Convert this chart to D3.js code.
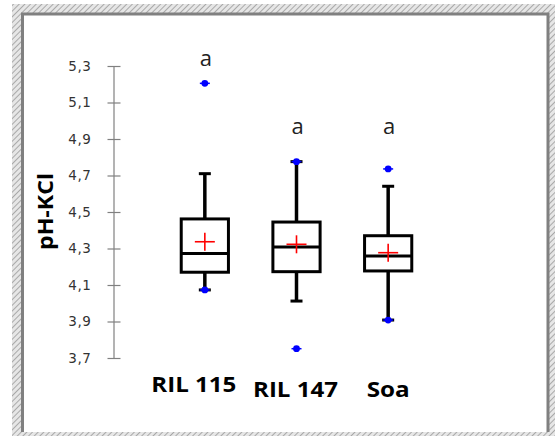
<!DOCTYPE html>
<html>
<head>
<meta charset="utf-8">
<script src="https://cdn.jsdelivr.net/npm/d3@7"></script>
<style>
  html, body { margin: 0; padding: 0; background: #fff; }
  svg { display: block; }
</style>
</head>
<body>
<div id="chart"></div>
<script>
// Soil pH (KCl) per genotype: box plot summaries
const categories   = ["RIL 115", "RIL 147", "Soa"];
const q1           = [4.170, 4.173, 4.177];
const medians      = [4.272, 4.308, 4.259];
const q3           = [4.462, 4.445, 4.370];
const whiskerLow   = [4.073, 4.012, 3.908];
const whiskerHigh  = [4.710, 4.776, 4.641];
const means        = [4.337, 4.323, 4.277];
const minimums     = [4.073, 3.751, 3.908];
const maximums     = [5.205, 4.776, 4.736];
const groupLetters = ["a", "a", "a"];
const letterLevels = [5.33, 4.96, 4.96];
const tickValues   = [3.7, 3.9, 4.1, 4.3, 4.5, 4.7, 4.9, 5.1, 5.3];
const tickLabels   = ["3,7", "3,9", "4,1", "4,3", "4,5", "4,7", "4,9", "5,1", "5,3"];

const W = 555, H = 436;
const svg = d3.select("#chart").append("svg")
  .attr("width", W).attr("height", H);

// hatched frame around the chart area
const defs = svg.append("defs");
const pat = defs.append("pattern")
  .attr("id", "hatch").attr("patternUnits", "userSpaceOnUse")
  .attr("width", 4).attr("height", 4)
  .attr("patternTransform", "rotate(45)");
pat.append("rect").attr("width", 4).attr("height", 4).attr("fill", "#e6e6e6");
pat.append("line").attr("x1", 0).attr("y1", 0).attr("x2", 0).attr("y2", 4)
  .attr("stroke", "#9a9a9a").attr("stroke-width", 1.6);

svg.append("rect").attr("x", 12).attr("y", 4).attr("width", W - 12).attr("height", H - 4)
  .attr("fill", "url(#hatch)");
svg.append("rect").attr("x", 21).attr("y", 13).attr("width", 528).attr("height", 419)
  .attr("fill", "#fff");
// grey inner border on top, left and right
svg.append("path")
  .attr("d", "M22.5,432 L22.5,14 L548,14 L548,432")
  .attr("fill", "none").attr("stroke", "#808080").attr("stroke-width", 3);

// scales
const y = d3.scaleLinear().domain([3.7, 5.3]).range([358, 66]);
const x = d3.scaleBand().domain(categories).range([159, 434]).padding(0);
const cx = c => x(c) + x.bandwidth() / 2;
const boxW = x.bandwidth() * 0.515;
const capW = 12;

// y axis with ticks crossing the axis line
const axisX = 113.5;
const axis = d3.axisLeft(y)
  .tickValues(tickValues)
  .tickFormat((d, i) => tickLabels[i])
  .tickSize(6).tickSizeOuter(0).tickPadding(16);
const gAxis = svg.append("g").attr("transform", `translate(${axisX},0)`).call(axis);
gAxis.select(".domain").attr("stroke", "#808080").attr("stroke-width", 1.2);
gAxis.selectAll(".tick line").attr("x1", 7).attr("x2", -6)
  .attr("stroke", "#808080").attr("stroke-width", 1.2);
gAxis.selectAll(".tick text")
  .attr("font-family", "DejaVu Sans").attr("font-size", 13.5)
  .attr("letter-spacing", 0.6)
  .attr("fill", "#333");

// axis title
svg.append("text")
  .attr("transform", "translate(52.5,211.5) rotate(-90)")
  .attr("text-anchor", "middle")
  .attr("font-family", "Open Sans").attr("font-weight", "bold")
  .attr("font-size", 21).attr("textLength", 77).attr("lengthAdjust", "spacingAndGlyphs")
  .attr("fill", "#000")
  .text("pH-KCl");

// boxes
const g = svg.append("g");
categories.forEach((c, i) => {
  const xc = cx(c);
  // whiskers
  g.append("line").attr("x1", xc).attr("x2", xc)
    .attr("y1", y(q3[i])).attr("y2", y(whiskerHigh[i]))
    .attr("stroke", "#000").attr("stroke-width", 3.5);
  g.append("line").attr("x1", xc).attr("x2", xc)
    .attr("y1", y(q1[i])).attr("y2", y(whiskerLow[i]))
    .attr("stroke", "#000").attr("stroke-width", 3.5);
  g.append("line").attr("x1", xc - capW / 2).attr("x2", xc + capW / 2)
    .attr("y1", y(whiskerHigh[i])).attr("y2", y(whiskerHigh[i]))
    .attr("stroke", "#000").attr("stroke-width", 3);
  g.append("line").attr("x1", xc - capW / 2).attr("x2", xc + capW / 2)
    .attr("y1", y(whiskerLow[i])).attr("y2", y(whiskerLow[i]))
    .attr("stroke", "#000").attr("stroke-width", 3);
  // box
  g.append("rect")
    .attr("x", xc - boxW / 2).attr("y", y(q3[i]))
    .attr("width", boxW).attr("height", y(q1[i]) - y(q3[i]))
    .attr("fill", "#fff").attr("stroke", "#000").attr("stroke-width", 3);
  // median
  g.append("line").attr("x1", xc - boxW / 2).attr("x2", xc + boxW / 2)
    .attr("y1", y(medians[i])).attr("y2", y(medians[i]))
    .attr("stroke", "#000").attr("stroke-width", 3);
  // mean marker
  const ym = y(means[i]);
  g.append("line").attr("x1", xc - 10).attr("x2", xc + 10).attr("y1", ym).attr("y2", ym)
    .attr("stroke", "#ff0000").attr("stroke-width", 1.6);
  g.append("line").attr("x1", xc).attr("x2", xc).attr("y1", ym - 9).attr("y2", ym + 9)
    .attr("stroke", "#ff0000").attr("stroke-width", 1.6);
  // minimum and maximum points
  [minimums[i], maximums[i]].forEach(v => {
    g.append("circle").attr("cx", xc).attr("cy", y(v)).attr("r", 3.4)
      .attr("fill", "#0000ff");
    g.append("line").attr("x1", xc - 5).attr("x2", xc + 5).attr("y1", y(v)).attr("y2", y(v))
      .attr("stroke", "#0000ff").attr("stroke-width", 1.5);
  });
  // group letter
  g.append("text")
    .attr("x", xc + 1).attr("y", y(letterLevels[i]) + 5.5)
    .attr("text-anchor", "middle")
    .attr("font-family", "Open Sans").attr("font-size", 22)
    .attr("fill", "#222")
    .text(groupLetters[i]);
});

// category labels
const labelDx = [-11, -1, 0];
const labelDy = [-4.5, 0, 0];
const labelLen = [85, 85, 43];
svg.append("g").selectAll("text").data(categories).join("text")
  .attr("x", (d, i) => cx(d) + labelDx[i])
  .attr("y", (d, i) => 396.5 + labelDy[i])
  .attr("text-anchor", "middle")
  .attr("font-family", "Open Sans").attr("font-weight", "bold")
  .attr("font-size", 21)
  .attr("textLength", (d, i) => labelLen[i]).attr("lengthAdjust", "spacingAndGlyphs")
  .attr("fill", "#000")
  .text(d => d);
</script>
</body>
</html>
